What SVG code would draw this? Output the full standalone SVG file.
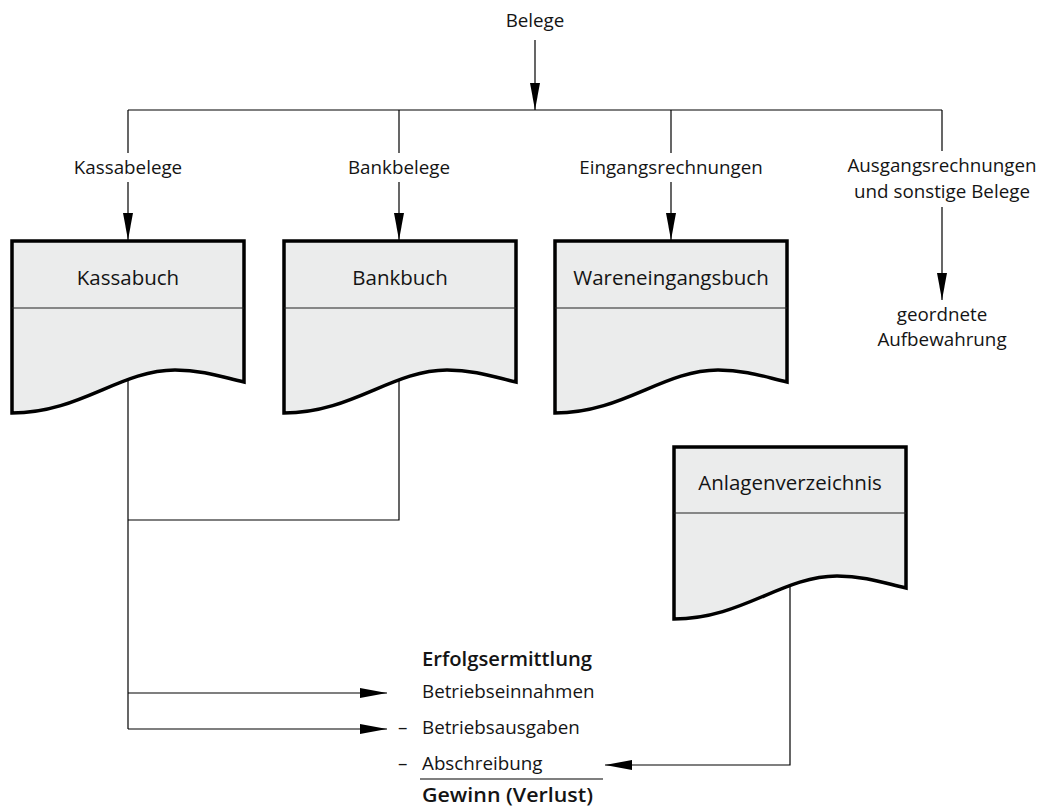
<svg xmlns="http://www.w3.org/2000/svg" width="1053" height="807" viewBox="0 0 1053 807">
<defs>
<style>
.t{font-family:"Open Sans","Liberation Sans",sans-serif;font-size:18.8px;fill:#141414}
.h{font-size:20.5px}
.m{text-anchor:middle}
.b{font-weight:600;font-size:19.5px}
.doc{fill:#ebecec;stroke:#000;stroke-width:3.5;stroke-linejoin:miter}
.div{stroke:#222;stroke-width:1.2;fill:none}
.c{stroke:#000;stroke-width:1.2;fill:none}
</style>
<marker id="ah" markerUnits="userSpaceOnUse" viewBox="0 0 27 10" refX="27" refY="5" markerWidth="27" markerHeight="10" orient="auto">
<path d="M0,0 L27,5 L0,10 Z" fill="#000"/>
</marker>
<path id="docshape" d="M0,0 H232 V141 C213,137 193,129 163,129 C108,129 68,172 0,172 Z"/>
</defs>
<rect width="1053" height="807" fill="#fff"/>

<g id="connectors">
<path class="c" d="M535,40 V110" marker-end="url(#ah)"/>
<path class="c" d="M128,110 H942"/>
<path class="c" d="M128,110 V153"/>
<path class="c" d="M128,182 V240" marker-end="url(#ah)"/>
<path class="c" d="M399,110 V153"/>
<path class="c" d="M399,182 V240" marker-end="url(#ah)"/>
<path class="c" d="M671,110 V153"/>
<path class="c" d="M671,182 V240" marker-end="url(#ah)"/>
<path class="c" d="M942,110 V151"/>
<path class="c" d="M942,207 V300" marker-end="url(#ah)"/>
<path class="c" d="M128,380 V729"/>
<path class="c" d="M399,381 V520 H128"/>
<path class="c" d="M128,693 H387" marker-end="url(#ah)"/>
<path class="c" d="M128,729 H387" marker-end="url(#ah)"/>
<path class="c" d="M790,585 V765 H605" marker-end="url(#ah)"/>
</g>

<g id="labels">
<text class="t m" x="535" y="27">Belege</text>
<text class="t m" x="128" y="174">Kassabelege</text>
<text class="t m" x="399" y="174">Bankbelege</text>
<text class="t m" x="671" y="174">Eingangsrechnungen</text>
<text class="t m" x="942" y="172">Ausgangsrechnungen</text>
<text class="t m" x="942" y="198">und sonstige Belege</text>
</g>

<g id="node-kassabuch" transform="translate(12,241)">
<use href="#docshape" class="doc"/>
<path class="div" d="M0,67 H232"/>
<text class="t h m" x="116" y="44">Kassabuch</text>
</g>
<g id="node-bankbuch" transform="translate(284,241)">
<use href="#docshape" class="doc"/>
<path class="div" d="M0,67 H232"/>
<text class="t h m" x="116" y="44">Bankbuch</text>
</g>
<g id="node-wareneingangsbuch" transform="translate(555,241)">
<use href="#docshape" class="doc"/>
<path class="div" d="M0,67 H232"/>
<text class="t h m" x="116" y="44">Wareneingangsbuch</text>
</g>
<g id="node-aufbewahrung">
<text class="t m" x="942" y="321">geordnete</text>
<text class="t m" x="942" y="346">Aufbewahrung</text>
</g>
<g id="node-anlagenverzeichnis" transform="translate(674,447)">
<use href="#docshape" class="doc"/>
<path class="div" d="M0,66 H232"/>
<text class="t h m" x="116" y="43">Anlagenverzeichnis</text>
</g>

<g id="node-erfolgsermittlung">
<text class="t b" x="422" y="666" textLength="170" lengthAdjust="spacingAndGlyphs">Erfolgsermittlung</text>
<text class="t" x="422" y="698">Betriebseinnahmen</text>
<text class="t" x="398" y="734">–</text>
<text class="t" x="422" y="734">Betriebsausgaben</text>
<text class="t" x="398" y="770">–</text>
<text class="t" x="422" y="770">Abschreibung</text>
<path class="c" d="M420,779 H603"/>
<text class="t b" x="422" y="802" textLength="171" lengthAdjust="spacingAndGlyphs">Gewinn (Verlust)</text>
</g>
</svg>
